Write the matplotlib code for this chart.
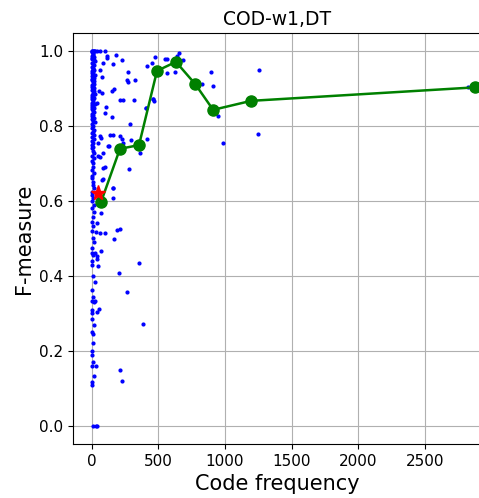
import matplotlib
matplotlib.use('Agg')
import matplotlib.pyplot as plt

# per-code points: column of rare codes (x small)
col_x = [0, 5, 10, 15, 20, 25, 3, 8, 12, 2, 18, 6, 1, 14, 22, 4, 9, 16, 0, 11,
         7, 20, 3, 13, 5, 24, 1, 10, 17, 6, 2, 15, 8, 21, 4, 12, 0, 19, 9, 3,
         14, 7, 26, 2, 11, 5, 18, 1, 8, 13, 4, 22, 0, 10, 6, 16, 3, 9, 20, 2,
         12, 5, 15, 1, 7, 23, 4, 11, 0, 17, 8, 3, 14, 6, 19, 2, 10, 5, 13, 1,
         9, 21, 4, 16, 0, 12, 7, 3, 18, 6, 2, 11, 8, 15, 1, 5, 10, 3, 20, 0,
         14, 7, 4, 12, 2, 9, 17, 6, 1, 13, 5, 0, 10, 25, 3, 8, 2, 15, 0, 6,
         4, 20, 1, 11, 7, 3, 0, 9, 5, 14, 2, 0, 12, 30]
col_y = [1.0, 1.0, 1.0, 1.0, 1.0, 1.0, 0.996, 0.993, 0.99, 0.987, 0.984, 0.981,
         0.978, 0.975, 0.972, 0.969, 0.966, 0.962, 0.958, 0.955, 0.952, 0.949,
         0.946, 0.943, 0.94, 0.937, 0.934, 0.931, 0.928, 0.925, 0.922, 0.919,
         0.916, 0.913, 0.91, 0.907, 0.904, 0.901, 0.898, 0.895, 0.892, 0.889,
         0.886, 0.883, 0.88, 0.877, 0.874, 0.871, 0.868, 0.865, 0.862, 0.859,
         0.856, 0.853, 0.85, 0.847, 0.844, 0.84, 0.836, 0.833, 0.83, 0.826,
         0.822, 0.818, 0.814, 0.81, 0.806, 0.8, 0.795, 0.79, 0.785, 0.78,
         0.775, 0.77, 0.765, 0.76, 0.755, 0.75, 0.745, 0.74, 0.733, 0.727,
         0.72, 0.714, 0.707, 0.7, 0.69, 0.683, 0.675, 0.667, 0.66, 0.65,
         0.643, 0.635, 0.625, 0.615, 0.607, 0.6, 0.59, 0.58, 0.57, 0.556,
         0.545, 0.533, 0.52, 0.5, 0.49, 0.475, 0.462, 0.455, 0.44, 0.43,
         0.4, 0.385, 0.363, 0.345, 0.333, 0.33, 0.31, 0.3, 0.285, 0.27, 0.25,
         0.245, 0.222, 0.2, 0.19, 0.171, 0.16, 0.133, 0.118, 0.11, 0.0, 0.0]
# per-code points away from the column
sc_x = [40, 62, 100, 112, 183, 225, 162, 87, 112, 275, 265, 270, 325, 167, 150,
        235, 212, 317, 460, 407, 107, 100, 150, 287, 138, 158, 212, 225, 67, 295,
        412, 132, 362, 62, 282, 100, 87, 82, 162, 67, 475, 550, 565, 637, 657,
        687, 417, 450, 562, 625, 892, 907, 825, 462, 467, 405, 950, 982, 1252,
        1245, 2822, 187, 212, 62, 100, 170, 70, 357, 207, 45, 262, 382, 57, 212,
        225, 75, 62, 75, 57, 37, 157, 62, 50, 125, 237, 87, 50, 75, 157, 37, 32,
        25, 37, 42, 37, 32, 25, 37]
sc_y = [1.0, 1.0, 1.0, 0.987, 0.989, 0.976, 0.964, 0.969, 0.98, 0.945, 0.922,
        0.918, 0.923, 0.899, 0.892, 0.869, 0.868, 0.869, 0.872, 0.848, 0.851,
        0.835, 0.824, 0.805, 0.776, 0.776, 0.773, 0.765, 0.767, 0.763, 0.765,
        0.747, 0.729, 0.718, 0.684, 0.691, 0.687, 0.659, 0.607, 0.569, 0.983,
        0.978, 0.978, 0.987, 0.994, 0.976, 0.96, 0.969, 0.942, 0.945, 0.943,
        0.907, 0.911, 0.871, 0.867, 0.847, 0.827, 0.755, 0.95, 0.779, 0.905,
        0.523, 0.525, 0.514, 0.514, 0.498, 0.467, 0.434, 0.409, 0.427, 0.356,
        0.272, 0.311, 0.149, 0.12, 0.931, 0.949, 0.887, 0.892, 0.86, 0.634,
        0.773, 0.755, 0.747, 0.755, 0.727, 0.72, 0.656, 0.634, 0.542, 0.518,
        0.462, 0.453, 0.444, 0.0, 0.16, 0.332, 0.305]

# binned averages
bin_x = [70, 212, 355, 490, 632, 776, 911, 1196, 2877]
bin_y = [0.597, 0.739, 0.749, 0.947, 0.971, 0.912, 0.843, 0.867, 0.903]

# overall average
avg_x = [47]
avg_y = [0.621]

fig = plt.figure(figsize=(4.79, 4.98), dpi=100)
ax = fig.add_axes([0.153, 0.108, 0.850, 0.825])
ax.plot(col_x + sc_x, col_y + sc_y, 'bo', markersize=2, zorder=2)
ax.plot(bin_x, bin_y, 'go-', linewidth=1.8, markersize=8, zorder=3)
ax.plot(avg_x, avg_y, 'r*', markersize=11, zorder=4)
ax.set_xlim(-138, 2916)
ax.set_ylim(-0.049, 1.047)
ax.grid(True)
ax.set_axisbelow(True)
ax.tick_params(labelsize=11)
ax.set_title('COD-w1,DT', fontsize=13.5)
ax.set_xlabel('Code frequency', fontsize=15)
ax.set_ylabel('F-measure', fontsize=15)
fig.savefig('out.png', dpi=100)
